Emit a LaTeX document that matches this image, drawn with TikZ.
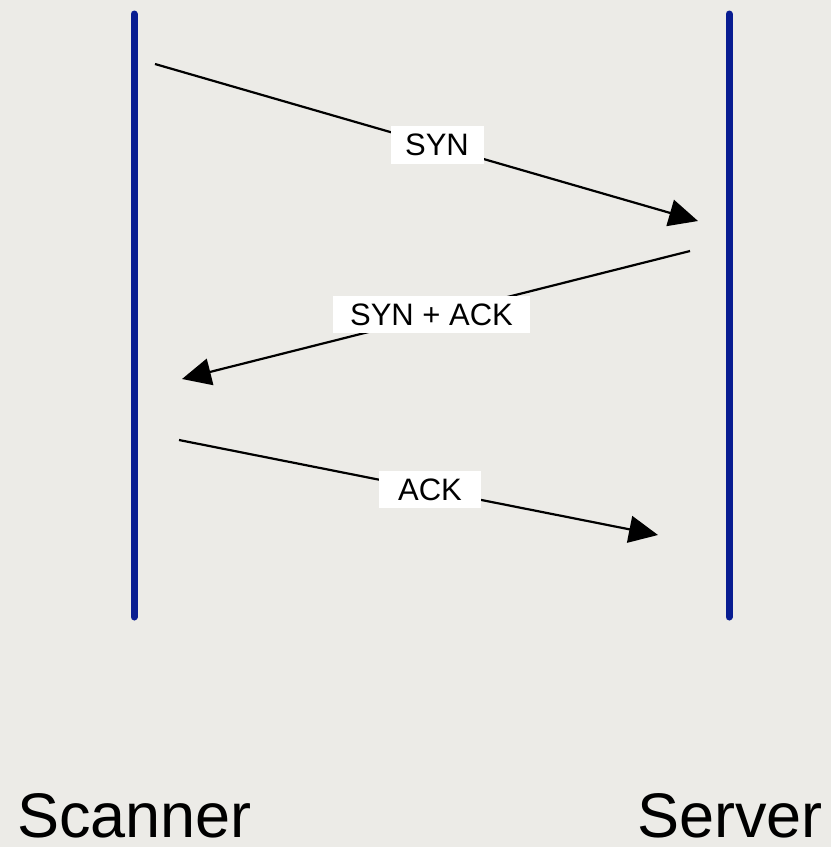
\documentclass[tikz,border=0pt]{standalone}
\usepackage{fontspec}
\setmainfont{Liberation Sans}
\usetikzlibrary{arrows.meta}
\definecolor{paper}{RGB}{236,235,231}
\definecolor{lifeblue}{RGB}{8,28,145}
\tikzset{
  lifeline/.style={draw=lifeblue, line width=7pt, line cap=round},
  msg/.style={draw=black, line width=2.2pt, -{Triangle[length=29pt,width=27pt]}},
  msglabel/.style={fill=white, inner xsep=0pt, inner ysep=0pt, font=\fontsize{31}{31}\selectfont},
  party/.style={inner sep=0pt, anchor=base west, font=\fontsize{63}{63}\selectfont}
}
\begin{document}
\begin{tikzpicture}[x=1pt,y=-1pt]
  % canvas
  \fill[paper] (0,0) rectangle (831,847);
  \useasboundingbox (0,0) rectangle (831,847);

  % lifelines
  \coordinate (scTop) at (134,14);
  \coordinate (scBot) at (134,617);
  \coordinate (svTop) at (729,14);
  \coordinate (svBot) at (729,617);
  \draw[lifeline] (scTop) -- (scBot);
  \draw[lifeline] (svTop) -- (svBot);

  % message end points
  \coordinate (synA) at (155,64);
  \coordinate (synB) at (698,221);
  \coordinate (saA) at (690,251);
  \coordinate (saB) at (182,379);
  \coordinate (ackA) at (179,440);
  \coordinate (ackB) at (658,535);

  \draw[msg] (synA) -- (synB);
  \draw[msg] (saA) -- (saB);
  \draw[msg] (ackA) -- (ackB);

  % message labels
  \node[msglabel, minimum width=93pt, minimum height=38pt] (synL) at (437,145) {SYN};
  \node[msglabel, minimum width=197pt, minimum height=37pt] (saL) at (431.5,314.5) {SYN + ACK};
  \node[msglabel, minimum width=102pt, minimum height=37pt] (ackL) at (430,489.5) {ACK};

  % participants
  \node[party] (scanner) at (17,837) {Scanner};
  \node[party] (server) at (637,837) {Server};
\end{tikzpicture}
\end{document}
